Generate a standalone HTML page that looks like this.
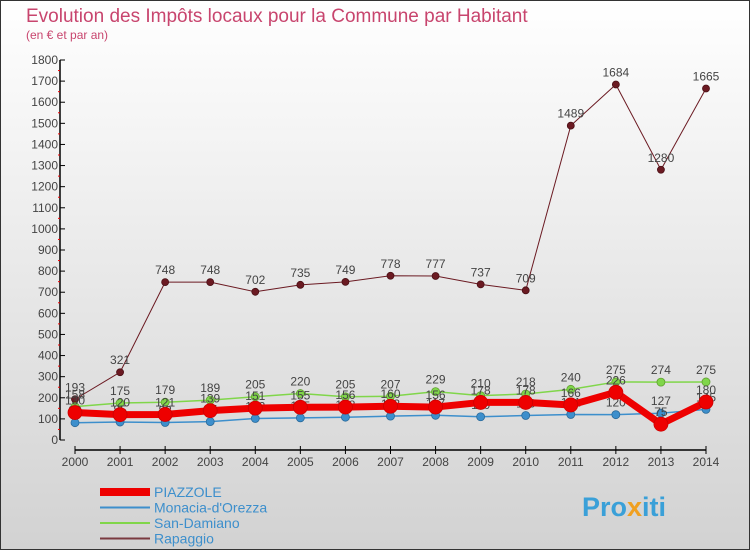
<!DOCTYPE html>
<html><head><meta charset="utf-8">
<style>
body{margin:0;padding:0}
#wrap{position:relative;width:750px;height:550px;overflow:hidden}
svg text{font-family:"Liberation Sans","DejaVu Sans",sans-serif}
</style></head>
<body>
<div id="wrap">
<svg id="chart" width="750" height="550" xmlns="http://www.w3.org/2000/svg">
<defs><linearGradient id="bg" x1="0" y1="0" x2="0" y2="1"><stop offset="0" stop-color="#ffffff"/><stop offset="1" stop-color="#d2d2d2"/></linearGradient></defs>
<rect x="0.5" y="0.5" width="749" height="549" fill="url(#bg)" stroke="#333"/>
<text x="26" y="22" font-size="19" fill="#c8456e">Evolution des Impôts locaux pour la Commune par Habitant</text>
<text x="26" y="39" font-size="12" fill="#c8456e">(en € et par an)</text>
<g id="axes"></g>
<g id="series"></g>
<g id="legend"></g>
<text x="582" y="516" font-size="27" font-weight="bold" fill="#3aa0d8">Pro<tspan fill="#f0a020">x</tspan>iti</text>
</svg>
</div>
<script>
const years = [2000,2001,2002,2003,2004,2005,2006,2007,2008,2009,2010,2011,2012,2013,2014];
const yTicks = [0,100,200,300,400,500,600,700,800,900,1000,1100,1200,1300,1400,1500,1600,1700,1800];
const seriesNames = ["PIAZZOLE","Monacia-d'Orezza","San-Damiano","Rapaggio"];
const piazzole = [130,120,121,139,151,155,156,160,156,178,178,166,226,75,180];
const monacia = [82,85,83,87,102,105,108,113,117,110,116,121,120,127,145];
const sanDamiano = [158,175,179,189,205,220,205,207,229,210,218,240,275,274,275];
const rapaggio = [193,321,748,748,702,735,749,778,777,737,709,1489,1684,1280,1665];

const NS="http://www.w3.org/2000/svg";
const x0=75,x1=706,yBase=440,yTop=60,yMax=1800;
const xs=i=>x0+(x1-x0)*i/(years.length-1);
const ys=v=>yBase-(yBase-yTop)*v/yMax;
function mk(tag,attrs,parent){const e=document.createElementNS(NS,tag);for(const k in attrs)e.setAttribute(k,attrs[k]);parent.appendChild(e);return e;}
const axes=document.getElementById('axes');
let a=mk('line',{x1:60,y1:yTop,x2:60,y2:yBase,stroke:'#000','stroke-width':1.5},axes);


yTicks.forEach(v=>{
  const t=mk('line',{x1:60,y1:ys(v),x2:65,y2:ys(v),stroke:'#000'},axes);
  
  
  if(v<yMax){const m=mk('line',{x1:58,y1:ys(v+50),x2:60,y2:ys(v+50),stroke:'#e00'},axes);
  
  }
  const l=mk('text',{x:58,y:ys(v)+4,'font-size':12,fill:'#444','text-anchor':'end'},axes);
  l.textContent=v;
  
  
});
a=mk('line',{x1:x0,y1:450,x2:x1,y2:450,stroke:'#000','stroke-width':1.5},axes);


years.forEach((y,i)=>{
  const t=mk('line',{x1:xs(i),y1:446,x2:xs(i),y2:454,stroke:'#000'},axes);
  
  
  const l=mk('text',{x:xs(i),y:466,'font-size':12,fill:'#444','text-anchor':'middle'},axes);
  l.textContent=y;
  
  
});
const sg=document.getElementById('series');
function drawSeries(vals,color,width,r,name,stroke){
  const g=mk('g',{},sg);
  
  
  const p=mk('polyline',{points:vals.map((v,i)=>xs(i)+','+ys(v)).join(' '),fill:'none',stroke:color,'stroke-width':width,'stroke-linejoin':'round'},g);
  
  
  vals.forEach((v,i)=>{
    const c=mk('circle',{cx:xs(i),cy:ys(v),r:r,fill:color,stroke:stroke,'stroke-width':0.8},g);
    
    
    const t=mk('text',{x:xs(i),y:ys(v)-8,'font-size':12,fill:'#444','text-anchor':'middle'},g);
    t.textContent=v;
    
    
  });
}
drawSeries(rapaggio,'#6b1a22',1,3.5,'rapaggio','#4a1016');
drawSeries(sanDamiano,'#80d64a',1.5,4,'san-damiano','#60a030');
drawSeries(monacia,'#3d8fcc',1.5,4,'monacia-dorezza','#2a6a9a');
drawSeries(piazzole,'#ee0000',7,7,'piazzole','#cc0000');
const lg=document.getElementById('legend');
const lc=['#ee0000','#3d8fcc','#80d64a','#7a3a40'],lw=[8,2,2,2];
seriesNames.forEach((n,i)=>{
  const y=492+i*15.5;
  const e=mk('line',{x1:100,y1:y,x2:150,y2:y,stroke:lc[i],'stroke-width':lw[i]},lg);
  
  
  const t=mk('text',{x:154,y:y+5,'font-size':14,fill:'#3d8fcc'},lg);
  t.textContent=n;
  
  
});
</script>
</body></html>
